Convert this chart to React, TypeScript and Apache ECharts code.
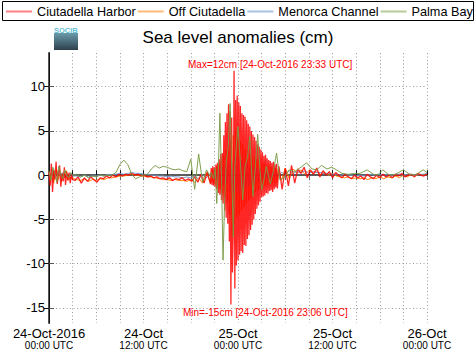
import React, { useEffect, useRef } from 'react';
import * as echarts from 'echarts';

const FONT = "'Liberation Sans', Arial, Helvetica, sans-serif";

const seriesNames = ['Ciutadella Harbor', 'Off Ciutadella', 'Menorca Channel', 'Palma Bay'];
const seriesColors = ['#ff0000', '#ff8000', '#6f94c8', '#7a9a45'];
const legendColors = ['#ff7f86', '#ffbb77', '#a9c1e3', '#b5cb98'];
const seriesZ = [4, 2, 3, 5];
const seriesWidths = [1.3, 1, 1, 1];

const xTickDates = ['24-Oct-2016', '24-Oct', '25-Oct', '25-Oct', '26-Oct'];
const xTickTimes = ['00:00 UTC', '12:00 UTC', '00:00 UTC', '12:00 UTC', '00:00 UTC'];
const yTickValues = [-15, -10, -5, 0, 5, 10];

const titleText = 'Sea level anomalies (cm)';
const maxText = 'Max=12cm [24-Oct-2016 23:33 UTC]';
const minText = 'Min=-15cm [24-Oct-2016 23:06 UTC]';

// hours since 24-Oct-2016 00:00 UTC ; values in cm
// ---- Ciutadella Harbor (red)
const harborEarly = [0.4, -1.2, 1.3, -1.9, 0.6, -0.5, 1.5, -1.0, 0.3, 1.1, -1.3, 0.2, -0.7, 0.9, -1.1, 0.4, -0.6, 0.3, -0.9, 0.1, -0.5]; // 0 .. 3.0 step 0.15
const harborQuiet = [-0.6, -0.2, -0.9, -0.3, -0.7, -0.2, -0.5, -0.8, -0.3, -0.4, -0.1, -0.3, 0.0, -0.2, 0.1, -0.1, 0.1, 0.0, 0.2, 0.0, 0.1, -0.1, 0.0, -0.2, -0.1, -0.3, -0.2, -0.4, -0.3, -0.5, -0.3, -0.6, -0.4, -0.5, -0.3, -0.6, -0.4, -0.7, -0.2, -0.8, 0.1, -0.9, 0.4, -1.0]; // 3.3 .. 20.5 step 0.4
const harborEvent = [0.8, -1.1, 1.0, -1.2, 0.9, -1.3, 1.2, -1.6, 1.4, -2.0, 1.8, -2.2, 2.4, -2.8, 2.5, -3.2, 4.5, -4.0, 6.0, -4.8, 7.0, -5.5, 8.0, -7.5, 7.2, -14.6, 6.5, -11.0, -6.0, 11.8, -12.8, 8.5, -10.2, 9.0, -9.6, 8.2, -9.0, 7.8, -8.6, 7.0, -8.8, 6.8, -7.9, 6.6, -8.0, 6.2, -7.2, 5.8, -6.8, 5.5, -6.2, 5.0, -5.6, 4.6, -5.0, 4.3, -4.4, 3.9, -3.8, 3.5, -3.4, 3.2, -3.0, 2.9, -2.5, 2.6, -2.4, 2.2, -2.3, 2.3, -2.0, 1.9, -2.1, 1.7, -1.8, 1.6, -1.7, 1.4, -1.9, 1.5, -1.6, 1.2, -1.4, 1.3, -1.5]; // 20.6 .. 29.0 step 0.1
const harborLate = [1.0, -1.6, 0.8, -1.2, 1.1, -0.9, 0.7, 0.2, 0.9, -0.3, 0.6, 0.1, 0.8, -0.2, 0.5, 0.0, 0.4, -0.3, 0.3, 0.0, -0.3, 0.1, -0.2, -0.4, 0.0, -0.3, -0.1, -0.5, 0.1, -0.2, -0.4, 0.0, -0.3, 0.1, -0.2, 0.0, -0.3, 0.1, -0.1, 0.2, -0.2, 0.0, 0.1, -0.2, 0.2, 0.0, -0.1, 0.1]; // 29.2 .. 48.0 step 0.4

// ---- Off Ciutadella (orange)
const offEarly = [0.2, -0.6, 0.7, -0.9, 0.3, 0.6, -0.5, 0.4, -0.7, 0.2, -0.3, 0.5, -0.6, -0.1, -0.4, -0.3]; // 0 .. 3.0 step 0.2
const offQuiet = [-0.5, -0.6, -0.4, -0.7, -0.5, -0.6, -0.4, -0.5, -0.3, -0.3, -0.2, -0.1, -0.1, 0.0, 0.1, 0.0, 0.0, -0.1, -0.2, -0.2, -0.3, -0.4, -0.5, -0.5, -0.6, -0.5, -0.6, -0.6, -0.7, -0.5, -0.8, -0.3, -0.9, 0.2, -0.8]; // 3.5 .. 20.5 step 0.5
const offEvent = [0.6, -0.9, 0.8, -1.0, 1.0, -1.3, 1.2, -1.5, 1.6, -2.0, 2.2, -2.5, 2.8, -3.0, 3.4, -4.5, 4.0, -6.8, 4.5, -5.5, 5.0, -4.8, 4.2, -4.5, 3.8, -4.0, 3.5, -3.6, 3.0, -3.2, 2.8, -2.9, 2.5, -2.6, 2.2, -2.2, 2.0, -1.9, 1.8, -1.7, 1.6, -1.5, 1.4, -1.4, 1.3, -1.2, 1.1, -1.1, 1.0, -1.0, 0.9, -1.0, 0.8, -0.9, 0.8, -0.8, 0.7]; // 20.7 .. 29.1 step 0.15
const offLate = [-0.6, 0.8, -0.4, 0.7, 0.2, 0.6, 0.1, 0.5, 0.2, 0.4, 0.1, 0.3, 0.0, 0.2, -0.1, -0.2, -0.3, -0.2, -0.4, -0.3, -0.4, -0.3, -0.5, -0.3, -0.4, -0.2, -0.4, -0.2, -0.3, -0.1, -0.3, 0.0, -0.2, 0.1, -0.1, 0.1, 0.0, 0.1]; // 29.5 .. 48.0 step 0.5

// ---- Menorca Channel (blue)
const chanEarly = [0.1, -0.4, 0.5, -0.3, 0.2, 0.4, -0.2, 0.3, -0.3, 0.1, -0.1, 0.2, -0.1]; // 0 .. 3.0 step 0.25
const chanQuiet = [-0.1, -0.2, 0.0, -0.2, -0.1, -0.1, 0.0, -0.1, 0.1, 0.0, 0.1, 0.2, 0.1, 0.2, 0.3, 0.2, 0.2, 0.1, 0.1, 0.0, 0.0, -0.1, -0.1, -0.2, -0.1, -0.2, -0.2, -0.3, -0.2, -0.3, -0.1, -0.4, 0.0, -0.3, 0.2]; // 3.5 .. 20.5 step 0.5
const chanEvent = [0.3, -0.5, 0.6, -0.7, 0.8, -0.9, 0.9, -1.1, 1.2, -1.0, 1.5, -1.8, 1.6, -2.0, 2.2, -1.9, 1.8, -2.1, 1.7, -1.6, 1.5, -1.4, 1.3, -1.2, 1.1, -1.0, 1.0, -0.9, 0.8, -0.7, 0.8, -0.6, 0.6, -0.5, 0.6, -0.4, 0.5, -0.3, 0.4, -0.3, 0.4, -0.2]; // 20.8 .. 29.0 step 0.2
const chanLate = [0.3, 0.1, 0.5, 0.2, 0.4, 0.3, 0.5, 0.2, 0.4, 0.3, 0.3, 0.2, 0.2, 0.1, 0.1, 0.0, 0.1, 0.0, 0.0, -0.1, 0.0, -0.1, 0.0, 0.1, 0.0, 0.1, 0.0, 0.1, 0.0, 0.1, 0.1, 0.0, 0.1, 0.1, 0.0, 0.1, 0.1, 0.2]; // 29.5 .. 48.0 step 0.5

// ---- Palma Bay (green)
const bayEarly = [0.5, -0.6, 0.9, 0.2, -0.8, 1.0, 0.1, -0.4, 0.6, 0.0, -0.3, 0.3, 0.0]; // 0 .. 3.0 step 0.25
const bayQuiet = [0.1, -0.2, 0.0, -0.3, -0.1, -0.2, 0.0, -0.1, 0.0, 0.0, 0.3, 1.2, 1.7, 1.2, 0.1, -0.4, -0.2, 0.0, 0.1, 0.7, 1.1, 0.8, 1.0, 0.9, 0.7, 0.6, 0.7, 0.5, 0.4, 1.8, -1.6, 2.4, -0.8, 0.6, -0.2]; // 3.5 .. 20.5 step 0.5
const bayEventHours = [20.6, 20.9, 21.1, 21.3, 21.5, 21.7, 21.9, 22.1, 22.3, 22.5, 22.75, 23.0, 23.2, 23.4, 23.6, 23.8, 24.0, 24.3, 24.6, 24.9, 25.2, 25.5, 25.9, 26.2, 26.5, 26.8, 27.0, 27.3, 27.6, 28.1, 28.5, 28.9, 29.3];
const bayEventValues = [0.3, -0.4, 0.8, -3.2, 0.5, 7.0, 0.0, -9.6, -3.0, 1.5, 3.0, 8.1, 0.5, -7.0, 1.0, 3.5, 5.5, 1.5, -2.8, 1.0, 2.0, 4.4, -2.4, 1.0, 4.6, 0.5, -1.7, -0.5, 1.0, -1.0, 0.5, 2.5, -0.5];
const bayLateHours = [29.8, 30.5, 31.2, 32.0, 32.7, 33.4, 34.0, 34.6, 35.3, 35.9, 36.5, 37.2, 38.0, 38.8, 39.5, 40.4, 41.2, 41.7, 42.4, 43.2, 44.0, 45.0, 45.8, 46.5, 47.5, 48.0];
const bayLateValues = [-0.3, 0.6, 0.4, 0.9, 1.4, 0.7, 0.6, 1.1, 0.7, 0.9, 0.6, 0.2, 0.1, 0.2, 0.2, 0.6, 0.1, 0.0, 0.6, 0.0, 0.1, 0.6, 0.1, 0.0, 0.6, 0.3];

function regular(start: number, step: number, values: number[]): number[][] {
  return values.map((v, i) => [Math.round((start + i * step) * 1000) / 1000, v]);
}
function paired(hours: number[], values: number[]): number[][] {
  return hours.map((h, i) => [h, values[i]]);
}

const harborData = [
  ...regular(0, 0.15, harborEarly),
  ...regular(3.3, 0.4, harborQuiet),
  ...regular(20.6, 0.1, harborEvent),
  ...regular(29.2, 0.4, harborLate),
];
const offData = [
  ...regular(0, 0.2, offEarly),
  ...regular(3.5, 0.5, offQuiet),
  ...regular(20.7, 0.15, offEvent),
  ...regular(29.5, 0.5, offLate),
];
const chanData = [
  ...regular(0, 0.25, chanEarly),
  ...regular(3.5, 0.5, chanQuiet),
  ...regular(20.8, 0.2, chanEvent),
  ...regular(29.5, 0.5, chanLate),
];
const bayData = [
  ...regular(0, 0.25, bayEarly),
  ...regular(3.5, 0.5, bayQuiet),
  ...paired(bayEventHours, bayEventValues),
  ...paired(bayLateHours, bayLateValues),
];

const allData = [harborData, offData, chanData, bayData];

export default function App() {
  const ref = useRef<HTMLDivElement>(null);
  useEffect(() => {
    if (!ref.current) return;
    const chart = echarts.init(ref.current, undefined, { renderer: 'svg' });
    const gridLine = { color: '#9a9a9a', type: [1, 2.5], width: 1 };
    const yMin = -16.7;
    const yMax = 13.8;
    const option: any = {
      animation: false,
      textStyle: { fontFamily: FONT },
      grid: { left: 49, right: 49, top: 53, bottom: 36, containLabel: false },
      legend: {
        left: 6,
        top: 5,
        padding: 0,
        itemGap: 2,
        itemWidth: 26,
        itemHeight: 2,
        icon: 'rect',
        selectedMode: false,
        textStyle: { fontSize: 12.7, color: '#000', fontFamily: FONT },
        data: seriesNames.map((n, i) => ({ name: n, icon: 'rect', itemStyle: { color: legendColors[i] } })),
      },
      xAxis: [
        {
          type: 'value',
          min: 0,
          max: 48,
          interval: 12,
          position: 'bottom',
          axisLine: { show: true, lineStyle: { color: '#111', width: 1.5 } },
          axisTick: { show: true, inside: true, length: 5, lineStyle: { color: '#111' } },
          minorTick: { show: true, splitNumber: 4, length: 5, lineStyle: { color: '#111' } },
          splitLine: { show: true, lineStyle: gridLine },
          minorSplitLine: { show: true, lineStyle: gridLine },
          axisLabel: {
            margin: 3,
            showMinLabel: true,
            showMaxLabel: true,
            color: '#000',
            fontFamily: FONT,
            formatter: (v: number) => {
              const i = Math.round(v / 12);
              return `{d|${xTickDates[i]}}\n{t|${xTickTimes[i]}}`;
            },
            rich: {
              d: { fontSize: 13, lineHeight: 14, color: '#000', fontFamily: FONT },
              t: { fontSize: 10, lineHeight: 11, color: '#000', fontFamily: FONT },
            },
          },
        },
        {
          type: 'value',
          min: 0,
          max: 48,
          interval: 12,
          position: 'top',
          axisLine: { show: true, lineStyle: { color: '#666', width: 1.5 } },
          axisTick: { show: true, inside: true, length: 5, lineStyle: { color: '#666' } },
          minorTick: { show: true, splitNumber: 4, length: 5, lineStyle: { color: '#666' } },
          splitLine: { show: false },
          axisLabel: { show: false },
        },
      ],
      yAxis: [
        {
          type: 'value',
          min: yMin,
          max: yMax,
          position: 'left',
          axisLine: { show: true, lineStyle: { color: '#555', width: 2 } },
          axisTick: { show: true, inside: true, length: 5, customValues: yTickValues, lineStyle: { color: '#555' } },
          axisLabel: { customValues: yTickValues, fontSize: 13, color: '#000', margin: 4, fontFamily: FONT },
          splitLine: { show: true, lineStyle: gridLine },
        },
        {
          type: 'value',
          min: yMin,
          max: yMax,
          position: 'right',
          axisLine: { show: true, lineStyle: { color: '#111', width: 1 } },
          axisTick: { show: true, inside: true, length: 5, customValues: yTickValues, lineStyle: { color: '#111' } },
          axisLabel: { show: false },
          splitLine: { show: false },
        },
      ],
      graphic: [
        {
          type: 'rect',
          shape: { x: 2.5, y: 1.5, width: 471, height: 19 },
          style: { fill: 'none', stroke: '#000', lineWidth: 1 },
          z: 1,
        },
        {
          type: 'text',
          x: 54,
          y: 30,
          style: { text: 'SOCIB', fontSize: 7.5, fontWeight: 'bold', fontFamily: FONT, fill: '#5fc1d6', align: 'left', verticalAlign: 'middle' },
        },
        {
          type: 'rect',
          shape: { x: 54, y: 33, width: 24, height: 17 },
          style: {
            fill: new echarts.graphic.LinearGradient(0, 0, 0, 1, [
              { offset: 0, color: '#6a9cab' },
              { offset: 1, color: '#2f3f4c' },
            ]),
          },
        },
        {
          type: 'text',
          x: 238,
          y: 37,
          style: { text: titleText, fontSize: 17, fontFamily: FONT, fill: '#000', align: 'center', verticalAlign: 'middle' },
        },
        {
          type: 'text',
          x: 188,
          y: 64.5,
          style: { text: maxText, fontSize: 10, fontFamily: FONT, fill: '#ff0000', align: 'left', verticalAlign: 'middle' },
          z: 10,
        },
        {
          type: 'text',
          x: 183,
          y: 312,
          style: { text: minText, fontSize: 10, fontFamily: FONT, fill: '#ff0000', align: 'left', verticalAlign: 'middle' },
          z: 10,
        },
      ],
      series: seriesNames.map((name, i) => ({
        name,
        type: 'line',
        xAxisIndex: 0,
        yAxisIndex: 0,
        data: allData[i],
        showSymbol: false,
        symbol: 'none',
        silent: true,
        z: seriesZ[i],
        lineStyle: { color: seriesColors[i], width: seriesWidths[i], opacity: i === 0 ? 0.85 : 0.95 },
        itemStyle: { color: seriesColors[i] },
      })),
    };
    chart.setOption(option);
    return () => chart.dispose();
  }, []);
  return <div ref={ref} style={{ position: 'absolute', left: 0, top: 0, width: 476, height: 359 }} />;
}
